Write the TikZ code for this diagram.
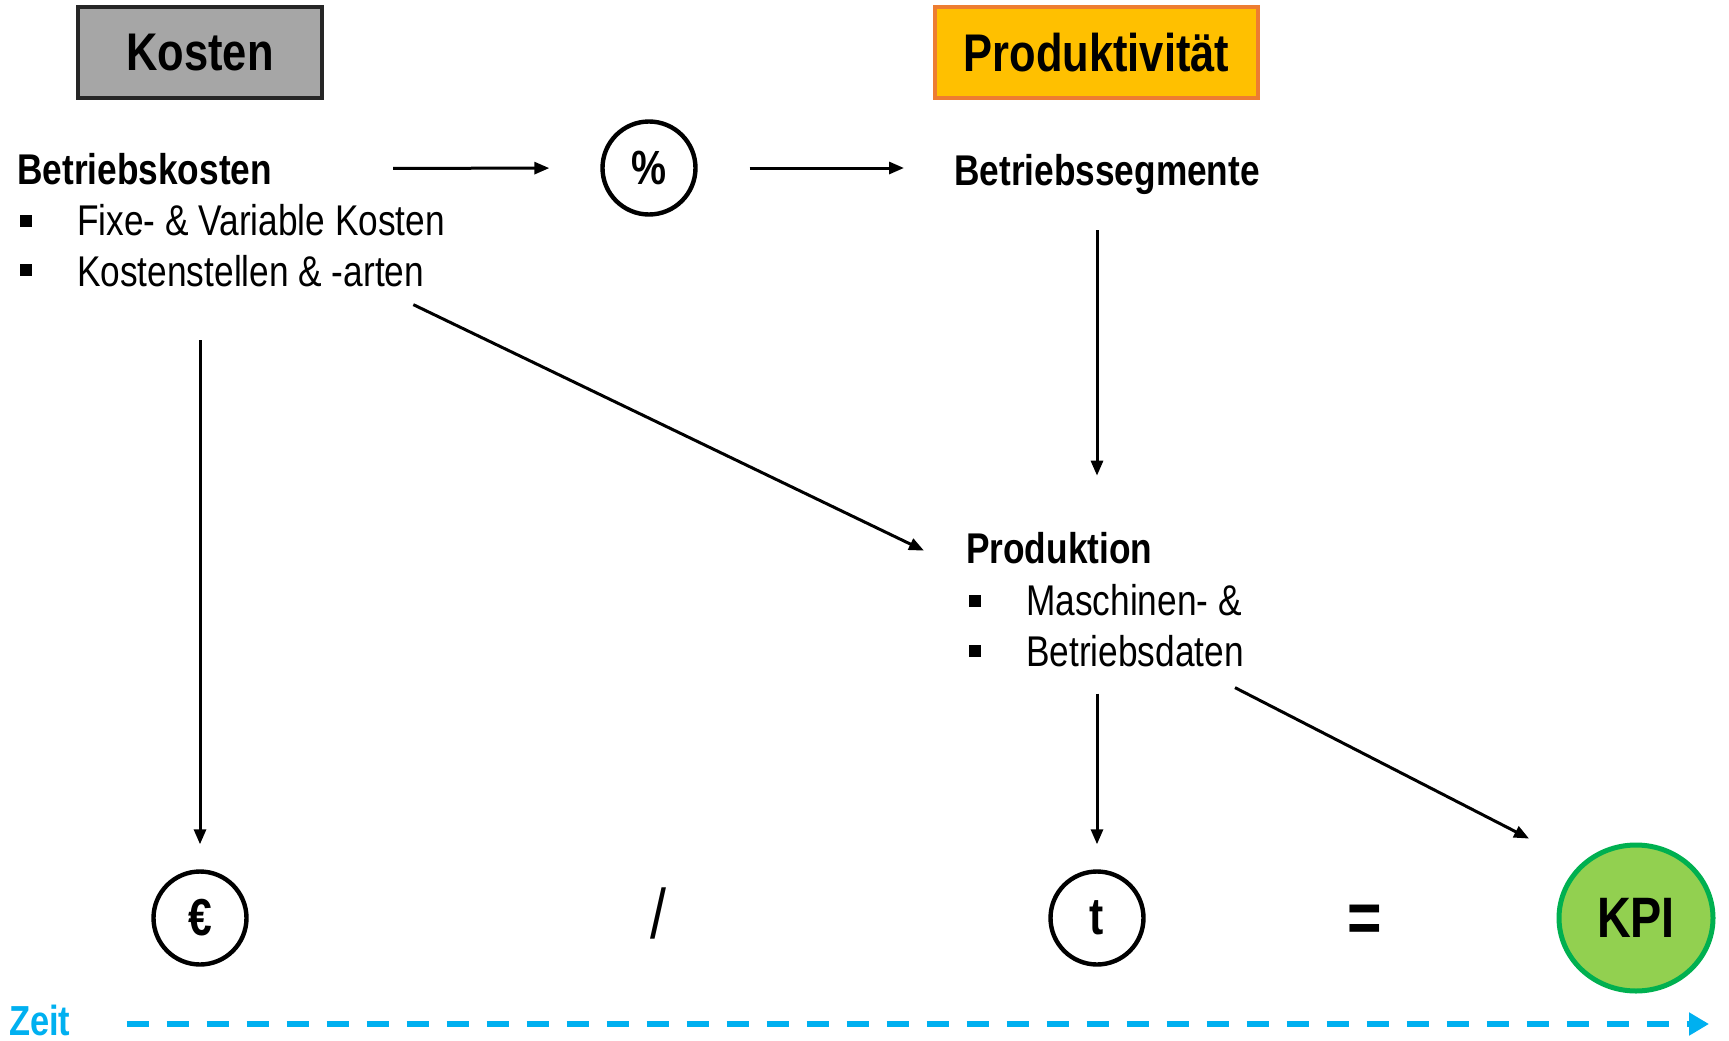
\documentclass[tikz,border=0pt]{standalone}
\usepackage{fontspec}
\setmainfont{Liberation Sans}[FakeStretch=0.82]
\usetikzlibrary{arrows.meta,shapes.geometric}
\definecolor{kostengray}{HTML}{A6A6A6}
\definecolor{prodyellow}{HTML}{FFC000}
\definecolor{prodorange}{HTML}{ED7D31}
\definecolor{kpifill}{HTML}{92D050}
\definecolor{kpigreen}{HTML}{00B050}
\definecolor{zeitblue}{HTML}{00B0F0}
\tikzset{
  titlebox/.style={draw, line width=4pt, inner sep=0pt, minimum width=#1, minimum height=91pt,
    font=\fontsize{53}{58}\selectfont\bfseries},
  headtext/.style={anchor=base west, inner sep=0pt, font=\fontsize{43}{47}\selectfont\bfseries},
  listtext/.style={anchor=base west, inner sep=0pt, font=\fontsize{43}{47}\selectfont},
  sqbullet/.style={fill=black, inner sep=0pt, minimum size=12pt},
  ring/.style={circle, draw, line width=4.4pt, minimum size=93pt, inner sep=0pt,
    font=\fontsize{52}{56}\selectfont\bfseries},
  arr/.style={-{Triangle[length=15pt,width=12pt]}, line width=3pt},
}
\begin{document}
\begin{tikzpicture}[x=1pt, y=-1pt]
  \useasboundingbox (0,0) rectangle (1729,1041);
  % headers
  \node[titlebox=244pt, fill=kostengray, draw=black!85] (kosten) at (200,52.5) {Kosten};
  \node[titlebox=323pt, fill=prodyellow, draw=prodorange] (produkt) at (1096.5,52.5) {Produktivität};

  % cost side
  \node[headtext] (bk) at (17,184) {Betriebskosten};
  \node[sqbullet] (b1) at (26,221) {};
  \node[listtext] (k1) at (77,235) {Fixe- \& Variable Kosten};
  \node[sqbullet] (b2) at (26,270) {};
  \node[listtext] (k2) at (77,286) {Kostenstellen \& -arten};
  \node[ring, font=\fontsize{48}{52}\selectfont\bfseries] (pct) at (649,168) {\%};

  % productivity side
  \node[headtext] (seg) at (954,185) {Betriebssegmente};
  \node[headtext] (prodn) at (966,563) {Produktion};
  \node[sqbullet] (b3) at (975,601) {};
  \node[listtext] (p1) at (1026,615) {Maschinen- \&};
  \node[sqbullet] (b4) at (975,651) {};
  \node[listtext] (p2) at (1026,666) {Betriebsdaten};

  % formula
  \node[ring] (eur) at (200,918) {€};
  \node[font=\fontsize{70}{74}\selectfont] (div) at (658,913) {/};
  \node[ring] (t) at (1097,918) {t};
  \node[font=\fontsize{72}{76}\selectfont\bfseries] (eq) at (1365,924) {=};
  \node[ellipse, draw=kpigreen, fill=kpifill, line width=5pt, minimum width=154pt, minimum height=146pt,
    inner sep=0pt, font=\fontsize{57}{60}\selectfont\bfseries] (kpi) at (1636,918) {KPI};

  % arrows
  \draw[arr, shorten <=121pt, shorten >=51pt] (bk.east) -- (pct.west);
  \draw[arr, shorten <=52pt, shorten >=50pt] (pct.east) -- (pct.east -| seg.west);
  \draw[arr, shorten <=36pt, shorten >=56pt] (seg.south -| t) -- (prodn.north -| t);
  \draw[arr] ([xshift=-11pt,yshift=-18pt]k2.south east) -- ([xshift=-42pt,yshift=-3pt]prodn.west);
  \draw[arr, shorten <=240pt, shorten >=25pt] (kosten.south) -- (eur.north);
  \draw[arr, shorten <=27pt, shorten >=25pt] (p2.south -| t) -- (t.north);
  \draw[arr, shorten >=57pt] ([xshift=-9pt,yshift=-21pt]p2.south east) -- (kpi.north west);

  % time axis
  \node[anchor=west, inner sep=0pt, text=zeitblue, font=\fontsize{42}{46}\selectfont\bfseries] (zeit) at (9,1020) {Zeit};
  \coordinate (zeitend) at (1709,1024);
  \draw[zeitblue, line width=6pt, dash pattern=on 22pt off 18pt, -{Triangle[length=20pt,width=22pt]}]
    (zeit.east |- zeitend) ++(56,0) -- (zeitend);
\end{tikzpicture}
\end{document}
